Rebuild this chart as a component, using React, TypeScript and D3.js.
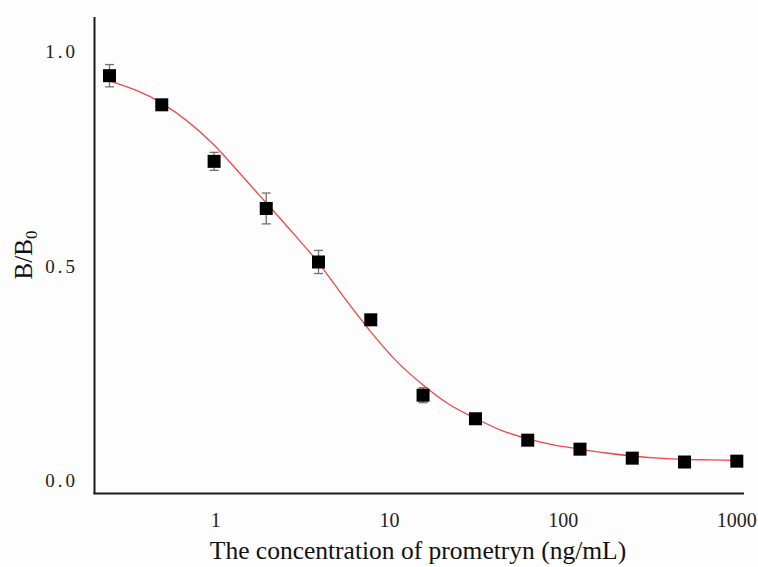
import React, { useEffect, useRef } from 'react';
import * as d3 from 'd3';

// concentrations (ng/mL) and measured B/B0 with error
const concentrations = [0.244, 0.488, 0.977, 1.95, 3.9, 7.8, 15.6, 31.25, 62.5, 125, 250, 500, 1000];
const ratios = [0.944, 0.876, 0.744, 0.634, 0.509, 0.374, 0.198, 0.143, 0.093, 0.072, 0.051, 0.042, 0.044];
const errors = [0.026, 0.004, 0.021, 0.036, 0.027, 0, 0.0175, 0.003, 0.003, 0.003, 0.002, 0.002, 0.002];

// fitted curve
const fitX = [0.244, 0.488, 0.977, 1.38, 1.95, 2.76, 3.9, 5.5, 7.8, 11, 15.6, 22, 31.25, 44, 62.5, 88, 125, 177, 250, 354, 500, 707, 1000];
const fitY = [0.932, 0.88, 0.782, 0.715, 0.647, 0.578, 0.507, 0.425, 0.346, 0.277, 0.222, 0.177, 0.144, 0.116, 0.096, 0.082, 0.072, 0.063, 0.056, 0.051, 0.048, 0.047, 0.046];

const xTicks = [1, 10, 100, 1000];
const yTicks = [0, 0.5, 1.0];
const yTickLabels = ['0.0', '0.5', '1.0'];

const W = 758;
const H = 567;

const App = () => {
  const ref = useRef<SVGSVGElement | null>(null);

  useEffect(() => {
    const svg = d3.select(ref.current);
    svg.selectAll('*').remove();

    const x = d3.scaleLog().domain([0.2, 1100]).range([94.5, 744]);
    const y = d3.scaleLinear().domain([0, 1]).range([480, 51.7]);

    svg.append('rect').attr('width', W).attr('height', H).attr('fill', '#fdfdfd');

    // axes (no ticks)
    svg.append('line')
      .attr('x1', 94.5).attr('x2', 94.5).attr('y1', 17).attr('y2', 494)
      .attr('stroke', '#1a1a1a').attr('stroke-width', 2);
    svg.append('line')
      .attr('x1', 93.5).attr('x2', 744).attr('y1', 493.5).attr('y2', 493.5)
      .attr('stroke', '#1a1a1a').attr('stroke-width', 2);

    const font = '"Liberation Serif", "Times New Roman", serif';

    svg.append('g').selectAll('text').data(yTicks).enter()
      .append('text')
      .attr('x', 78)
      .attr('y', d => y(d))
      .attr('dy', '0.35em')
      .attr('text-anchor', 'end')
      .attr('font-family', font)
      .attr('font-size', 19)
      .attr('letter-spacing', 3)
      .attr('fill', '#222')
      .text((d, i) => yTickLabels[i]);

    svg.append('g').selectAll('text').data(xTicks).enter()
      .append('text')
      .attr('x', d => x(d))
      .attr('y', 527)
      .attr('text-anchor', 'middle')
      .attr('font-family', font)
      .attr('font-size', 20)
      .attr('fill', '#222')
      .text(d => String(d));

    svg.append('text')
      .attr('x', 418)
      .attr('y', 559)
      .attr('text-anchor', 'middle')
      .attr('font-family', font)
      .attr('font-size', 25.5)
      .attr('fill', '#111')
      .text('The concentration of prometryn (ng/mL)');

    const yt = svg.append('text')
      .attr('transform', 'translate(32, 255) rotate(-90)')
      .attr('text-anchor', 'middle')
      .attr('font-family', font)
      .attr('font-size', 25)
      .attr('fill', '#111');
    yt.append('tspan').text('B/B');
    yt.append('tspan').attr('font-size', 17).attr('dy', 5).text('0');

    // fitted curve
    const line = d3.line<number>()
      .x((d, i) => x(fitX[i]))
      .y(d => y(d))
      .curve(d3.curveMonotoneX);
    svg.append('path')
      .attr('d', line(fitY))
      .attr('fill', 'none')
      .attr('stroke', '#f04848')
      .attr('stroke-width', 1.3);

    // error bars
    const eb = svg.append('g').attr('stroke', '#707070').attr('stroke-width', 1.3);
    concentrations.forEach((c, i) => {
      if (errors[i] <= 0) return;
      const cx = x(c);
      const y1 = y(ratios[i] + errors[i]);
      const y2 = y(ratios[i] - errors[i]);
      eb.append('line').attr('x1', cx).attr('x2', cx).attr('y1', y1).attr('y2', y2);
      eb.append('line').attr('x1', cx - 4.5).attr('x2', cx + 4.5).attr('y1', y1).attr('y2', y1);
      eb.append('line').attr('x1', cx - 4.5).attr('x2', cx + 4.5).attr('y1', y2).attr('y2', y2);
    });

    // markers
    const s = 13;
    svg.append('g').selectAll('rect').data(concentrations).enter()
      .append('rect')
      .attr('x', d => x(d) - s / 2)
      .attr('y', (d, i) => y(ratios[i]) - s / 2)
      .attr('width', s)
      .attr('height', s)
      .attr('fill', '#000');
  }, []);

  return (
    <svg ref={ref} width={W} height={H}
      style={{ position: 'absolute', left: 0, top: 0, display: 'block' }} />
  );
};

export default App;
